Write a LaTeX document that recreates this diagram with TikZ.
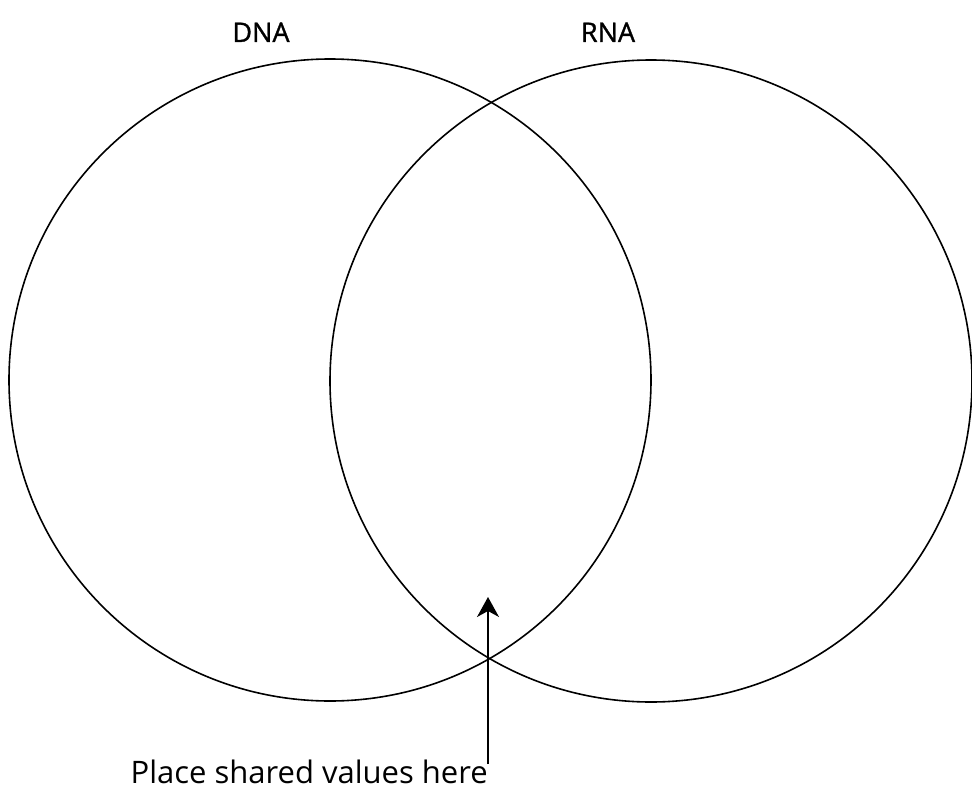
\documentclass[tikz,border=0pt]{standalone}
\usepackage{fontspec}
\setmainfont{Open Sans}
\usetikzlibrary{arrows.meta}
\begin{document}
\begin{tikzpicture}[x=1pt,y=-1pt,
  ring/.style={line width=1.6pt},
  title/.style={font=\fontsize{27}{30}\selectfont, inner sep=0pt},
  caption/.style={font=\fontsize{31}{34}\selectfont, inner sep=0pt},
  pointer/.style={line width=1.6pt, -{Stealth[length=20pt,width=22pt,inset=6pt]}}]
  \useasboundingbox (0,0) rectangle (972,792);
  % the two overlapping sets
  \coordinate (cdna) at (330,380);
  \coordinate (crna) at (651,381);
  \draw[ring] (cdna) circle (321pt);
  \draw[ring] (crna) circle (321pt);
  % set titles
  \node[title, anchor=base] (tdna) at (261,42) {\addfontfeature{FakeBold=1.2}DNA};
  \node[title, anchor=base] (trna) at (608,42) {\addfontfeature{FakeBold=1.2}RNA};
  % pointer into the shared region
  \node[caption, anchor=base east] (note) at (488,783) {Place shared values here};
  \coordinate (tail) at (488,764);
  \coordinate (tip) at (488,597);
  \draw[pointer] (tail) -- (tip);
\end{tikzpicture}
\end{document}
